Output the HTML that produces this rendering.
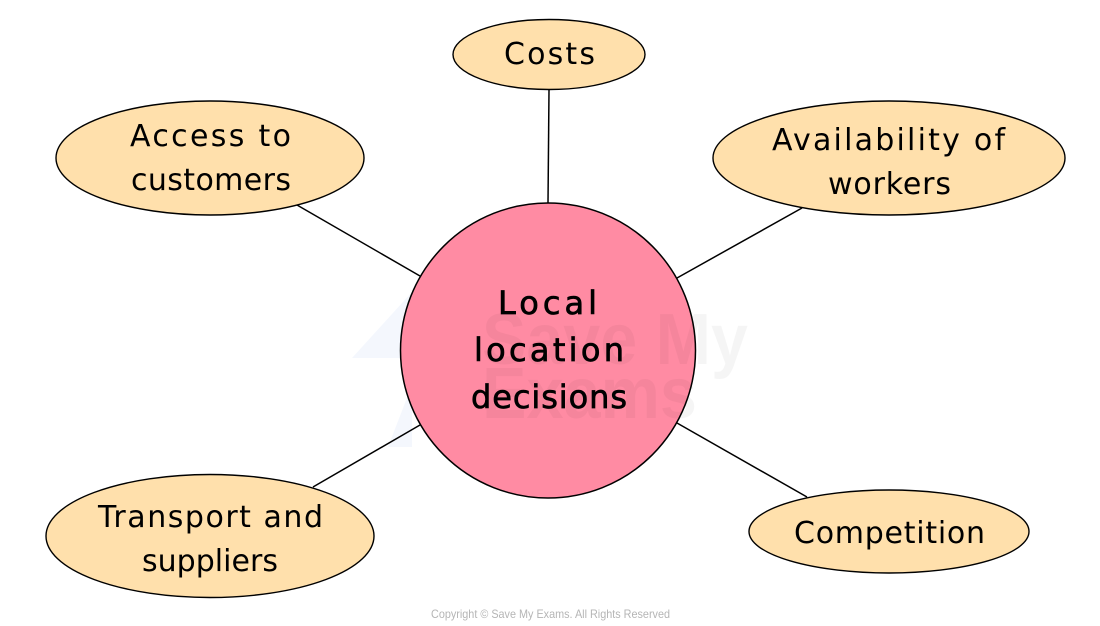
<!DOCTYPE html>
<html>
<head>
<meta charset="utf-8">
<style>
html,body{margin:0;padding:0;background:#fff;}
svg{display:block;}
text{font-family:"DejaVu Sans","Liberation Sans",sans-serif;fill:#000;}
.n{font-size:30px;font-weight:400;}
.c{font-size:32px;stroke:#000;stroke-width:.7px;}
.wm{font-family:"Liberation Sans",sans-serif;font-weight:700;font-size:72px;fill:#000;fill-opacity:.04;}
</style>
</head>
<body>
<svg width="1100" height="626" viewBox="0 0 1100 626" xmlns="http://www.w3.org/2000/svg">
<rect width="1100" height="626" fill="#fff"/>
<polygon points="352,358 412,292 412,358" fill="#f4f7fd"/>
<polygon points="388,447 412,385 412,447" fill="#f4f7fd"/>
<g stroke="#000" stroke-width="1.5" fill="none">
<line x1="549" y1="90" x2="548" y2="203"/>
<line x1="297" y1="205" x2="420" y2="276"/>
<line x1="802" y1="208" x2="677" y2="278"/>
<line x1="313" y1="487" x2="420" y2="425"/>
<line x1="807" y1="497" x2="677" y2="423"/>
</g>
<g stroke="#000" stroke-width="1.4" fill="#ffe0ac">
<ellipse cx="549" cy="54.5" rx="96" ry="35"/>
<ellipse cx="210" cy="158" rx="154" ry="57"/>
<ellipse cx="889" cy="158" rx="176" ry="57"/>
<ellipse cx="210" cy="536" rx="164" ry="61.5"/>
<ellipse cx="889" cy="531.5" rx="140" ry="41.5"/>
</g>
<circle cx="548" cy="350.500" r="147.500" fill="#ff8ba3" stroke="#000" stroke-width="1.5"/>
<text class="wm" x="482" y="364" textLength="266" lengthAdjust="spacingAndGlyphs">Save My</text>
<text class="wm" x="482" y="418" textLength="215" lengthAdjust="spacingAndGlyphs">Exams</text>

<text class="n" x="504" y="64" textLength="91" lengthAdjust="spacing">Costs</text>
<text class="n" x="130" y="146" textLength="161" lengthAdjust="spacing">Access to</text>
<text class="n" x="131" y="190" textLength="160" lengthAdjust="spacing">customers</text>
<text class="n" x="772" y="150" textLength="233" lengthAdjust="spacing">Availability of</text>
<text class="n" x="828" y="194" textLength="123" lengthAdjust="spacing">workers</text>
<text class="n" x="98" y="527" textLength="225" lengthAdjust="spacing">Transport and</text>
<text class="n" x="142" y="571" textLength="136" lengthAdjust="spacing">suppliers</text>
<text class="n" x="794" y="543" textLength="191" lengthAdjust="spacing">Competition</text>

<text class="c" x="498" y="314" textLength="99" lengthAdjust="spacing">Local</text>
<text class="c" x="474" y="361" textLength="150" lengthAdjust="spacing">location</text>
<text class="c" x="471" y="408" textLength="156" lengthAdjust="spacing">decisions</text>

<text x="431" y="618" style="font-family:'Liberation Sans',sans-serif;font-size:12px;fill:#b5b5b5" textLength="239" lengthAdjust="spacingAndGlyphs">Copyright © Save My Exams. All Rights Reserved</text>
</svg>
</body>
</html>
